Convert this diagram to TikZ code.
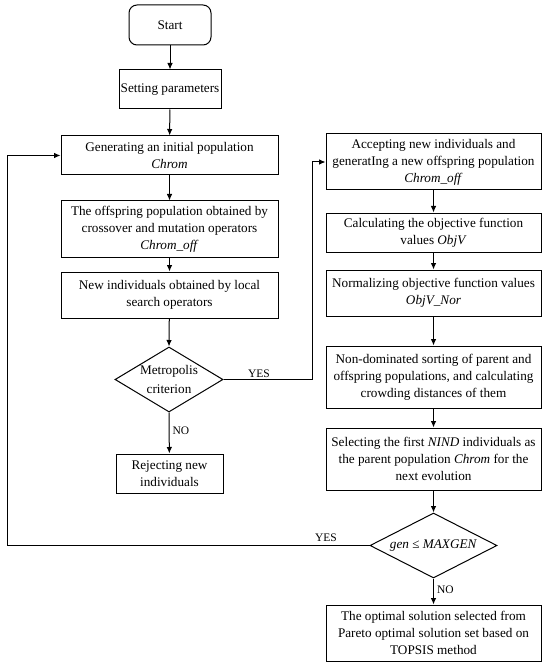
\documentclass[tikz,border=0pt]{standalone}
\usepackage{fontspec}
\setmainfont{Liberation Serif}
\usetikzlibrary{shapes.geometric,arrows.meta}
\tikzset{
  box/.style={draw, line width=1pt, align=center, inner sep=0pt, minimum width=215, font=\fontsize{13.2}{17}\selectfont},
  dia/.style={draw, diamond, line width=1pt, inner sep=0pt},
  txt/.style={align=center, inner sep=0pt, font=\fontsize{13.2}{19}\selectfont},
  lbl/.style={inner sep=1pt, font=\fontsize{11.5}{13}\selectfont},
  arr/.style={line width=1pt, -{Latex[length=6.5pt,width=5.5pt]}},
  ln/.style={line width=1pt}
}
\begin{document}
\begin{tikzpicture}[x=1pt,y=-1pt]
\useasboundingbox (0,0) rectangle (550,668);
% left column
\node[box, rounded corners=8pt, minimum width=82, minimum height=40] (start) at (170,25) {Start};
\node[box, minimum width=102, minimum height=39] (setp) at (170,89.5) {Setting parameters};
\node[box, minimum width=217, minimum height=39] (gen) at (169.5,155.5) {Generating an initial population\\\textit{Chrom}};
\node[box, minimum width=217, minimum height=56] (offs) at (169.5,229) {The offspring population obtained by\\crossover and mutation operators\\\textit{Chrom\_off}};
\node[box, minimum width=217, minimum height=46] (newi) at (169.5,295) {New individuals obtained by local\\search operators};
\node[dia, minimum width=108, minimum height=65] (metro) at (169,379.5) {};
\node[txt] (metrotxt) at (169,379.5) {Metropolis\\criterion};
\node[box, minimum width=107, minimum height=39] (rej) at (169.5,473.5) {Rejecting new\\individuals};
% right column
\node[box, minimum height=56] (acc) at (433.5,162) {Accepting new individuals and\\generatIng a new offspring population\\\textit{Chrom\_off}};
\node[box, minimum height=39] (calc) at (433.5,232.5) {Calculating the objective function\\values \textit{ObjV}};
\node[box, minimum height=46] (norm) at (433.5,293) {Normalizing objective function values\\\textit{ObjV\_Nor}};
\node[box, minimum height=62] (nond) at (433.5,377) {Non-dominated sorting of parent and\\offspring populations, and calculating\\crowding distances of them};
\node[box, minimum height=62] (sel) at (433.5,459) {Selecting the first \textit{NIND} individuals as\\the parent population \textit{Chrom} for the\\next evolution};
\node[dia, minimum width=127, minimum height=65] (gend) at (433.5,545.5) {};
\node[txt] (gendtxt) at (433.5,545.5) {\textit{gen} ≤ \textit{MAXGEN}};
\node[box, minimum height=56] (fin) at (433.5,633) {The optimal solution selected from\\Pareto optimal solution set based on\\TOPSIS method};
% turning points
\coordinate (c1) at (312,379.5);
\coordinate (c2) at (7,545.5);
% connectors
\draw[arr] (start) -- (setp);
\draw[arr] (setp) -- (gen);
\draw[arr] (gen) -- (offs);
\draw[arr] (offs) -- (newi);
\draw[arr] (newi) -- (metro.north);
\draw[arr] (metro.south) -- node[lbl, right=2pt, pos=0.45] (no1) {NO} (rej);
\draw[ln] (metro.east) -- node[lbl, above=0pt, pos=0.4] (yes1) {YES} (c1);
\draw[arr] (c1) |- (acc.west);
\draw[arr] (acc) -- (calc);
\draw[arr] (calc) -- (norm);
\draw[arr] (norm) -- (nond);
\draw[arr] (nond) -- (sel);
\draw[arr] (sel) -- (gend.north);
\draw[arr] (gend.south) -- node[lbl, right=2pt, pos=0.45] (no2) {NO} (fin);
\draw[ln] (gend.west) -- node[lbl, above=2pt, pos=0.12] (yes2) {YES} (c2);
\draw[arr] (c2) |- (gen.west);
\end{tikzpicture}
\end{document}
